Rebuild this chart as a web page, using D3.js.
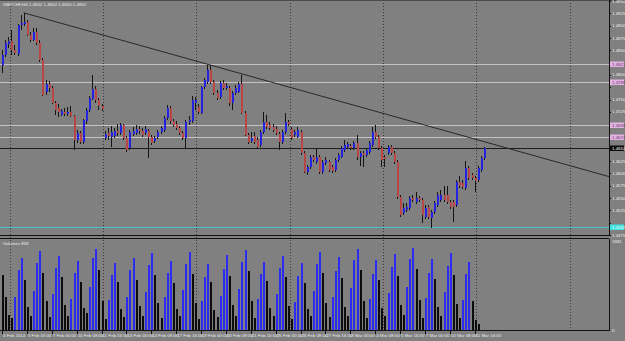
<!DOCTYPE html>
<html>
<head>
<meta charset="utf-8">
<script src="https://cdn.jsdelivr.net/npm/d3@7"></script>
<style>
html, body { margin: 0; padding: 0; background: #808080; overflow: hidden; }
svg { display: block; }
text { font-family: "Liberation Sans", Arial, sans-serif; font-size: 4.4px; fill: #ececec; }
</style>
</head>
<body>
<div class="chart"></div>
<script>
const width = 625;
const height = 341;

const symbolTitle = "GBPCHF,H4  1.4652 1.4654 1.4650 1.4652";
const volumeTitle = "Volumes 968";

// H4 candles, oldest first
const opens = [1.4820,1.4840,1.4863,1.4869,1.4850,1.4842,1.4901,1.4903,1.4907,1.4881,1.4871,1.4887,1.4865,1.4830,1.4765,1.4781,1.4773,1.4743,1.4733,1.4719,
  1.4725,1.4721,1.4725,1.4717,1.4668,1.4682,1.4664,1.4706,1.4729,1.4751,1.4771,1.4749,1.4737,1.4672,1.4682,1.4674,1.4676,1.4686,1.4682,1.4698,
  1.4672,1.4652,1.4680,1.4682,1.4690,1.4686,1.4682,1.4686,1.4674,1.4666,1.4674,1.4684,1.4688,1.4712,1.4733,1.4706,1.4700,1.4692,1.4682,1.4672,
  1.4704,1.4706,1.4743,1.4735,1.4723,1.4775,1.4786,1.4810,1.4786,1.4763,1.4755,1.4784,1.4773,1.4773,1.4743,1.4763,1.4765,1.4781,1.4723,1.4678,
  1.4666,1.4676,1.4668,1.4658,1.4684,1.4704,1.4698,1.4694,1.4690,1.4680,1.4664,1.4684,1.4704,1.4690,1.4678,1.4674,1.4684,1.4641,1.4603,1.4613,
  1.4633,1.4623,1.4633,1.4603,1.4621,1.4623,1.4613,1.4607,1.4627,1.4633,1.4647,1.4654,1.4656,1.4652,1.4662,1.4633,1.4641,1.4637,1.4643,1.4658,
  1.4684,1.4674,1.4652,1.4633,1.4641,1.4654,1.4641,1.4623,1.4552,1.4520,1.4526,1.4530,1.4550,1.4542,1.4550,1.4546,1.4511,1.4532,1.4509,1.4522,
  1.4536,1.4546,1.4556,1.4556,1.4542,1.4542,1.4536,1.4583,1.4581,1.4570,1.4611,1.4597,1.4591,1.4587,1.4607,1.4631];
const highs = [1.4850,1.4871,1.4877,1.4891,1.4861,1.4903,1.4922,1.4926,1.4911,1.4887,1.4895,1.4895,1.4871,1.4834,1.4790,1.4788,1.4777,1.4747,1.4741,1.4731,
  1.4733,1.4735,1.4737,1.4719,1.4688,1.4686,1.4710,1.4733,1.4757,1.4800,1.4777,1.4753,1.4741,1.4686,1.4692,1.4696,1.4692,1.4700,1.4702,1.4700,
  1.4676,1.4688,1.4694,1.4698,1.4696,1.4692,1.4696,1.4690,1.4678,1.4676,1.4688,1.4696,1.4717,1.4739,1.4737,1.4710,1.4706,1.4696,1.4686,1.4708,
  1.4717,1.4757,1.4755,1.4741,1.4777,1.4794,1.4820,1.4820,1.4790,1.4769,1.4788,1.4790,1.4784,1.4777,1.4767,1.4779,1.4786,1.4800,1.4727,1.4682,
  1.4684,1.4684,1.4674,1.4688,1.4725,1.4719,1.4704,1.4700,1.4696,1.4684,1.4688,1.4723,1.4708,1.4694,1.4688,1.4694,1.4688,1.4645,1.4617,1.4637,
  1.4637,1.4652,1.4637,1.4627,1.4633,1.4627,1.4617,1.4631,1.4641,1.4656,1.4668,1.4664,1.4660,1.4666,1.4678,1.4645,1.4645,1.4652,1.4666,1.4694,
  1.4698,1.4678,1.4656,1.4637,1.4658,1.4658,1.4645,1.4627,1.4556,1.4540,1.4540,1.4554,1.4556,1.4562,1.4554,1.4550,1.4536,1.4536,1.4526,1.4544,
  1.4562,1.4566,1.4574,1.4574,1.4546,1.4546,1.4587,1.4595,1.4587,1.4625,1.4615,1.4601,1.4595,1.4615,1.4635,1.4654];
const lows = [1.4804,1.4836,1.4855,1.4840,1.4840,1.4838,1.4891,1.4899,1.4879,1.4867,1.4869,1.4861,1.4826,1.4757,1.4759,1.4765,1.4741,1.4719,1.4714,1.4717,
  1.4717,1.4717,1.4714,1.4647,1.4662,1.4660,1.4660,1.4700,1.4725,1.4749,1.4743,1.4729,1.4727,1.4668,1.4668,1.4654,1.4672,1.4676,1.4678,1.4668,
  1.4643,1.4647,1.4676,1.4678,1.4680,1.4674,1.4678,1.4631,1.4658,1.4662,1.4670,1.4680,1.4684,1.4708,1.4700,1.4694,1.4688,1.4678,1.4668,1.4652,
  1.4698,1.4702,1.4729,1.4721,1.4721,1.4771,1.4781,1.4781,1.4759,1.4749,1.4751,1.4769,1.4769,1.4737,1.4729,1.4759,1.4763,1.4721,1.4676,1.4660,
  1.4662,1.4660,1.4650,1.4654,1.4680,1.4690,1.4688,1.4684,1.4678,1.4647,1.4660,1.4680,1.4696,1.4668,1.4674,1.4672,1.4637,1.4601,1.4597,1.4609,
  1.4623,1.4619,1.4599,1.4599,1.4617,1.4603,1.4601,1.4603,1.4623,1.4631,1.4643,1.4650,1.4647,1.4647,1.4627,1.4615,1.4613,1.4633,1.4639,1.4654,
  1.4670,1.4647,1.4613,1.4613,1.4637,1.4637,1.4619,1.4548,1.4511,1.4516,1.4522,1.4526,1.4542,1.4538,1.4542,1.4499,1.4507,1.4507,1.4489,1.4518,
  1.4532,1.4542,1.4542,1.4538,1.4528,1.4501,1.4532,1.4570,1.4568,1.4566,1.4587,1.4587,1.4562,1.4583,1.4603,1.4627];
const closes = [1.4840,1.4865,1.4869,1.4850,1.4844,1.4901,1.4905,1.4907,1.4881,1.4871,1.4887,1.4865,1.4830,1.4759,1.4781,1.4773,1.4743,1.4729,1.4725,1.4727,
  1.4721,1.4725,1.4717,1.4668,1.4682,1.4664,1.4708,1.4729,1.4753,1.4771,1.4749,1.4737,1.4731,1.4680,1.4676,1.4684,1.4686,1.4682,1.4698,1.4672,
  1.4647,1.4684,1.4686,1.4690,1.4686,1.4678,1.4690,1.4674,1.4662,1.4672,1.4684,1.4692,1.4712,1.4733,1.4706,1.4698,1.4692,1.4682,1.4672,1.4704,
  1.4708,1.4749,1.4749,1.4725,1.4775,1.4790,1.4810,1.4786,1.4763,1.4753,1.4784,1.4773,1.4777,1.4743,1.4763,1.4773,1.4781,1.4723,1.4678,1.4664,
  1.4672,1.4664,1.4654,1.4684,1.4704,1.4694,1.4692,1.4688,1.4682,1.4664,1.4684,1.4704,1.4700,1.4672,1.4684,1.4688,1.4641,1.4603,1.4613,1.4633,
  1.4627,1.4633,1.4603,1.4623,1.4627,1.4607,1.4605,1.4627,1.4637,1.4652,1.4658,1.4660,1.4652,1.4662,1.4633,1.4641,1.4637,1.4647,1.4662,1.4684,
  1.4674,1.4652,1.4627,1.4629,1.4654,1.4641,1.4623,1.4552,1.4516,1.4530,1.4532,1.4550,1.4546,1.4550,1.4546,1.4516,1.4530,1.4511,1.4522,1.4540,
  1.4556,1.4556,1.4546,1.4542,1.4532,1.4532,1.4583,1.4574,1.4572,1.4611,1.4591,1.4591,1.4585,1.4611,1.4631,1.4652];

const volumes = [1150,700,320,260,700,1250,1500,1050,480,300,820,1400,1650,1200,600,280,760,1300,1550,1100,
  520,300,650,1200,1450,1000,450,350,900,1500,1700,1250,600,240,620,1150,1400,1000,430,280,
  700,1250,1500,1050,500,300,800,1350,1600,1150,560,260,680,1200,1450,980,440,300,840,1380,
  1620,1180,560,230,600,1100,1380,1000,420,280,720,1280,1560,1120,520,300,860,1420,1680,1240,
  600,250,640,1160,1420,1020,460,290,760,1300,1540,1100,500,240,580,1120,1400,980,430,300,
  820,1380,1640,1200,560,270,700,1240,1520,1080,480,300,880,1460,1700,1260,600,250,640,1180,
  1460,1040,470,290,780,1320,1580,1120,520,310,900,1480,1720,1280,620,260,660,1200,1480,1060,
  480,300,800,1340,1600,1140,540,260,620,1160,1420,600,200,120];

const priceTicks = [1.4950,1.4925,1.4900,1.4875,1.4850,1.4825,1.4800,1.4775,1.4750,1.4725,
  1.4700,1.4675,1.4650,1.4625,1.4600,1.4575,1.4550,1.4525,1.4500,1.4475];
const timeLabels = ["4 Feb 2014","5 Feb 16:00","7 Feb 00:00","10 Feb 08:00","11 Feb 16:00","13 Feb 00:00",
  "14 Feb 08:00","17 Feb 16:00","19 Feb 00:00","20 Feb 08:00","21 Feb 16:00","25 Feb 00:00",
  "26 Feb 08:00","27 Feb 16:00","3 Mar 00:00","4 Mar 08:00","5 Mar 16:00","7 Mar 00:00",
  "10 Mar 08:00","11 Mar 16:00"];
const weekStartBars = [3, 33, 63, 93, 123, 153, 183];

const levelPrices = [1.4822, 1.4786, 1.4698, 1.4674];
const alertPrice = 1.4492;
const trendAnchors = [{bar: 7, price: 1.4926}, {bar: 67, price: 1.4820}];

const plotRight = 609;
const mainTop = 0, mainBottom = 235.5;
const volTop = 238.5, volBottom = 330.5;

const bullColor = "#2323e0", bearColor = "#b84646", wickColor = "#141414";
const volUpColor = "#2b2bf2", volDownColor = "#0c0c0c";

const candles = opens.map((o, i) => ({i: i, o: o, h: highs[i], l: lows[i], c: closes[i], v: volumes[i]}));

const x = d3.scaleLinear().domain([0, candles.length - 1]).range([2, 484]);
const y = d3.scaleLinear().domain([1.4950, 1.4475]).range([1, 235]);
const yVol = d3.scaleLinear().domain([0, 1881]).range([330, 240]);

let svg = d3.select(".chart")
    .append("svg")
    .attr("width", width)
    .attr("height", height)
    .style("background", "#808080");

let grid = svg.append("g").attr("shape-rendering", "crispEdges");
grid.selectAll(".vgrid")
    .data(weekStartBars)
    .enter()
    .append("line")
    .attr("x1", (d) => Math.round(x(d - 0.5)) + 0.5)
    .attr("x2", (d) => Math.round(x(d - 0.5)) + 0.5)
    .attr("y1", mainTop)
    .attr("y2", volBottom)
    .attr("stroke", "#3a3a3a")
    .attr("stroke-dasharray", "1,2");

// panel frames
let frame = svg.append("g").attr("shape-rendering", "crispEdges").attr("stroke", "#111");
frame.append("line").attr("x1", 0).attr("x2", width).attr("y1", 0.5).attr("y2", 0.5).attr("stroke", "#4a4a4a");
frame.append("line").attr("x1", 0).attr("x2", plotRight).attr("y1", mainBottom).attr("y2", mainBottom);
frame.append("line").attr("x1", 0).attr("x2", plotRight).attr("y1", volTop).attr("y2", volTop);
frame.append("line").attr("x1", 0).attr("x2", plotRight).attr("y1", volBottom).attr("y2", volBottom);
frame.append("line").attr("x1", plotRight + 0.5).attr("x2", plotRight + 0.5).attr("y1", 0).attr("y2", mainBottom);
frame.append("line").attr("x1", plotRight + 0.5).attr("x2", plotRight + 0.5).attr("y1", volTop).attr("y2", volBottom);

// horizontal price levels
let levels = svg.append("g").attr("shape-rendering", "crispEdges");
levels.selectAll(".level")
    .data(levelPrices)
    .enter()
    .append("line")
    .attr("x1", 0).attr("x2", plotRight)
    .attr("y1", (d) => Math.round(y(d)) + 0.5)
    .attr("y2", (d) => Math.round(y(d)) + 0.5)
    .attr("stroke", "#c9c0ca");
levels.append("line")
    .attr("x1", 0).attr("x2", plotRight)
    .attr("y1", Math.round(y(alertPrice)) + 0.5)
    .attr("y2", Math.round(y(alertPrice)) + 0.5)
    .attr("stroke", "#3fc6c6");
const bid = closes[closes.length - 1];
levels.append("line")
    .attr("x1", 0).attr("x2", plotRight)
    .attr("y1", Math.round(y(bid)) + 0.5)
    .attr("y2", Math.round(y(bid)) + 0.5)
    .attr("stroke", "#1c1c1c");

// trend line, drawn as a ray to the price scale
const slope = (trendAnchors[1].price - trendAnchors[0].price) / (trendAnchors[1].bar - trendAnchors[0].bar);
const endBar = x.invert(plotRight);
svg.append("line")
    .attr("x1", x(trendAnchors[0].bar))
    .attr("y1", y(trendAnchors[0].price))
    .attr("x2", x(endBar))
    .attr("y2", y(trendAnchors[0].price + slope * (endBar - trendAnchors[0].bar)))
    .attr("stroke", "#1e1e1e")
    .attr("stroke-width", 0.9);

// candles
let candleG = svg.append("g").attr("shape-rendering", "crispEdges");
candleG.selectAll(".wick")
    .data(candles)
    .enter()
    .append("line")
    .attr("x1", (d) => Math.round(x(d.i)) + 0.5)
    .attr("x2", (d) => Math.round(x(d.i)) + 0.5)
    .attr("y1", (d) => y(d.h))
    .attr("y2", (d) => y(d.l))
    .attr("stroke", wickColor);
candleG.selectAll(".body")
    .data(candles)
    .enter()
    .append("rect")
    .attr("x", (d) => Math.round(x(d.i)) - 0.5)
    .attr("y", (d) => y(Math.max(d.o, d.c)))
    .attr("width", 2)
    .attr("height", (d) => Math.max(1, Math.abs(y(d.o) - y(d.c))))
    .attr("fill", (d) => d.c >= d.o ? bullColor : bearColor);

// volumes
let volG = svg.append("g").attr("shape-rendering", "crispEdges");
volG.selectAll(".vol")
    .data(candles)
    .enter()
    .append("rect")
    .attr("x", (d) => Math.round(x(d.i)) - 0.5)
    .attr("y", (d) => yVol(d.v))
    .attr("width", 2)
    .attr("height", (d) => yVol(0) - yVol(d.v))
    .attr("fill", (d, i) => (i > 0 && d.v > volumes[i - 1]) ? volUpColor : volDownColor);

// price scale
const tagPrices = levelPrices.concat([bid, alertPrice]);
const freeTicks = priceTicks.filter((p) => tagPrices.every((t) => Math.abs(y(t) - y(p)) > 5.5));
let axisG = svg.append("g");
axisG.selectAll(".ptick")
    .data(priceTicks)
    .enter()
    .append("line")
    .attr("x1", plotRight).attr("x2", plotRight + 2)
    .attr("y1", (d) => Math.round(y(d)) + 0.5)
    .attr("y2", (d) => Math.round(y(d)) + 0.5)
    .attr("stroke", "#111")
    .attr("shape-rendering", "crispEdges");
axisG.selectAll(".plabel")
    .data(freeTicks)
    .enter()
    .append("text")
    .attr("x", plotRight + 3)
    .attr("y", (d) => y(d) + 1.6)
    .text((d) => d.toFixed(4));

function priceTag(price, fill, color) {
    const yy = Math.round(y(price));
    axisG.append("rect")
        .attr("x", plotRight + 1).attr("y", yy - 2.5)
        .attr("width", 14).attr("height", 5.5)
        .attr("fill", fill);
    axisG.append("text")
        .attr("x", plotRight + 3).attr("y", yy + 1.8)
        .style("fill", color)
        .text(price.toFixed(4));
}
levelPrices.forEach((p) => priceTag(p, "#e2b2e2", "#6a3f6a"));
priceTag(bid, "#0c0c0c", "#f4f4f4");
priceTag(alertPrice, "#3fe2e2", "#f4f4f4");

// volume scale
axisG.append("text").attr("x", plotRight + 3).attr("y", 243).text("1881");
axisG.append("text").attr("x", plotRight + 3).attr("y", 332).text("0");

// time scale
let timeG = svg.append("g");
timeG.selectAll(".tlabel")
    .data(timeLabels)
    .enter()
    .append("text")
    .attr("x", (d, i) => x(i * 8) + 1)
    .attr("y", 337)
    .text((d) => d);
timeG.selectAll(".ttick")
    .data(timeLabels)
    .enter()
    .append("line")
    .attr("x1", (d, i) => Math.round(x(i * 8)) + 0.5)
    .attr("x2", (d, i) => Math.round(x(i * 8)) + 0.5)
    .attr("y1", volBottom).attr("y2", volBottom + 3)
    .attr("stroke", "#111")
    .attr("shape-rendering", "crispEdges");

svg.append("text").attr("x", 3).attr("y", 6).text(symbolTitle);
svg.append("text").attr("x", 3).attr("y", 245).text(volumeTitle);
</script>
</body>
</html>
